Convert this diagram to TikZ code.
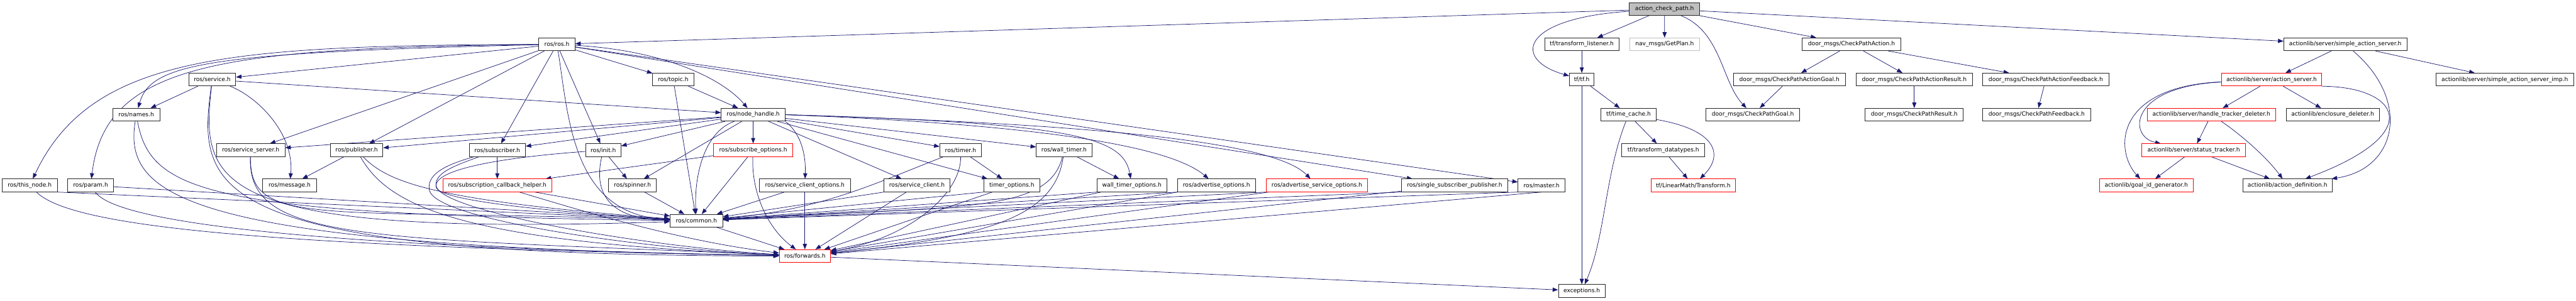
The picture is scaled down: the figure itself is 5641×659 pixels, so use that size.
\documentclass[tikz,border=0pt]{standalone}
\usepackage{fontspec}
\setmainfont{DejaVu Sans}
\usetikzlibrary{arrows.meta}
\pgfdeclarelayer{back}
\pgfdeclarelayer{bg}
\pgfsetlayers{back,bg,main}
\definecolor{edgec}{HTML}{191970}
\definecolor{acpgray}{HTML}{BFBFBF}
\definecolor{redc}{HTML}{FF0000}
\newcommand\nodefont{\fontsize{12.6}{15}\selectfont}
\tikzset{
  box/.style={draw=black!85, line width=1.2pt, fill=white, minimum height=28pt, inner sep=1pt, font=\nodefont},
  redbox/.style={box, draw=redc},
  greybox/.style={box, draw=acpgray},
  dep/.style={draw=edgec, line width=1pt, -{Triangle[length=12pt,width=9pt]}}
}
\begin{document}
\begin{tikzpicture}[x=1pt,y=-1pt]
\begin{pgfonlayer}{back}
\fill[white] (0,0) rectangle (5641,659);
\end{pgfonlayer}
\useasboundingbox (0,0) rectangle (5641,659);
% rank 0
\node[box,fill=acpgray,minimum width=154pt] (acp) at (3645,19.8) {action\_check\_path.h};
% rank 1
\node[box,minimum width=79pt] (ros) at (1219.5,97.1) {ros/ros.h};
\node[box,minimum width=163pt] (tl) at (3463.8,97.1) {tf/transform\_listener.h};
\node[greybox,minimum width=153.5pt] (getplan) at (3645.2,97.1) {nav\_msgs/GetPlan.h};
\node[box,minimum width=216pt] (cpa) at (4054.5,97.1) {door\_msgs/CheckPathAction.h};
\node[box,minimum width=269.4pt] (sas) at (5135.8,97.1) {actionlib/server/simple\_action\_server.h};
% rank 2
\node[box,minimum width=102.8pt] (service) at (464.8,174.4) {ros/service.h};
\node[box,minimum width=89.6pt] (topic) at (1474.2,174.4) {ros/topic.h};
\node[box,minimum width=54.4pt] (tf) at (3463.8,174.4) {tf/tf.h};
\node[box,minimum width=245.4pt] (cpag) at (3918.4,174.4) {door\_msgs/CheckPathActionGoal.h};
\node[box,minimum width=254.5pt] (cpar) at (4191.9,174.4) {door\_msgs/CheckPathActionResult.h};
\node[box,minimum width=276.2pt] (cpaf) at (4479.8,174.4) {door\_msgs/CheckPathActionFeedback.h};
\node[redbox,minimum width=220pt] (as) at (4974.3,174.4) {actionlib/server/action\_server.h};
\node[box,minimum width=301.5pt] (sasimp) at (5485,174.4) {actionlib/server/simple\_action\_server\_imp.h};
% rank 3
\node[box,minimum width=103.2pt] (names) at (298.4,251.4) {ros/names.h};
\node[box,minimum width=139.9pt] (nh) at (1649.3,251.4) {ros/node\_handle.h};
\node[box,minimum width=121.8pt] (tc) at (3566.3,251.4) {tf/time\_cache.h};
\node[box,minimum width=205.5pt] (cpg) at (3838.3,251.4) {door\_msgs/CheckPathGoal.h};
\node[box,minimum width=214.6pt] (cpr) at (4191.9,251.4) {door\_msgs/CheckPathResult.h};
\node[box,minimum width=236.4pt] (cpf) at (4459.9,251.4) {door\_msgs/CheckPathFeedback.h};
\node[redbox,minimum width=281.5pt] (htd) at (4842.5,251.4) {actionlib/server/handle\_tracker\_deleter.h};
\node[box,minimum width=204pt] (ed) at (5108,251.4) {actionlib/enclosure\_deleter.h};
% rank 4
\node[box,minimum width=150pt] (ss) at (549,329.1) {ros/service\_server.h};
\node[box,minimum width=115pt] (pub) at (781,329.1) {ros/publisher.h};
\node[box,minimum width=123pt] (sub) at (1089,329.1) {ros/subscriber.h};
\node[box,minimum width=77.4pt] (init) at (1321,329.1) {ros/init.h};
\node[redbox,minimum width=173.4pt] (so) at (1649.3,329.1) {ros/subscribe\_options.h};
\node[box,minimum width=91pt] (timer) at (2103.5,329.1) {ros/timer.h};
\node[box,minimum width=121.8pt] (wt) at (2330.2,329.1) {ros/wall\_timer.h};
\node[box,minimum width=181.6pt] (td) at (3642.4,329.1) {tf/transform\_datatypes.h};
\node[redbox,minimum width=226.6pt] (st) at (4803.7,329.1) {actionlib/server/status\_tracker.h};
% rank 5
\node[box,minimum width=121pt] (thisnode) at (65,406.4) {ros/this\_node.h};
\node[box,minimum width=100pt] (param) at (198.5,406.4) {ros/param.h};
\node[box,minimum width=117.7pt] (msg) at (634.3,406.4) {ros/message.h};
\node[redbox,minimum width=239pt] (sch) at (1089,406.4) {ros/subscription\_callback\_helper.h};
\node[box,minimum width=104pt] (spin) at (1385,406.4) {ros/spinner.h};
\node[box,minimum width=199pt] (sco) at (1762.5,406.4) {ros/service\_client\_options.h};
\node[box,minimum width=144.3pt] (sc) at (2007.9,406.4) {ros/service\_client.h};
\node[box,minimum width=122.7pt] (topt) at (2215.7,406.4) {timer\_options.h};
\node[box,minimum width=152pt] (wtopt) at (2478.6,406.4) {wall\_timer\_options.h};
\node[box,minimum width=170pt] (ao) at (2663.8,406.4) {ros/advertise\_options.h};
\node[redbox,minimum width=222.8pt] (aso) at (2883.8,406.4) {ros/advertise\_service\_options.h};
\node[box,minimum width=231.8pt] (ssp) at (3185.3,406.4) {ros/single\_subscriber\_publisher.h};
\node[box,minimum width=102.8pt] (master) at (3375.7,406.4) {ros/master.h};
\node[redbox,minimum width=185.7pt] (lmt) at (3707.9,406.4) {tf/LinearMath/Transform.h};
\node[redbox,minimum width=205.6pt] (gig) at (4699.9,406.4) {actionlib/goal\_id\_generator.h};
\node[box,minimum width=194.7pt] (ad) at (5009.2,406.4) {actionlib/action\_definition.h};
% ranks 6-8
\node[box,minimum width=115pt] (common) at (1525,483.8) {ros/common.h};
\node[redbox,minimum width=112pt] (fwd) at (1762.5,561.1) {ros/forwards.h};
\node[box,minimum width=102.4pt] (exc) at (3463.8,637.6) {exceptions.h};

\begin{pgfonlayer}{bg}
% action_check_path and right group
\draw[dep] (acp) -- (ros);
\draw[dep] (acp) -- (tl);
\draw[dep] (acp) .. controls (3330,40) and (3310,130) .. (tf);
\draw[dep] (acp) -- (getplan);
\draw[dep] (acp) .. controls (3770,70) and (3770,180) .. (cpg);
\draw[dep] (acp) -- (cpa);
\draw[dep] (acp) -- (sas);
\draw[dep] (tl) -- (tf);
\draw[dep] (tf) -- (tc);
\draw[dep] (tf) -- (exc);
\draw[dep] (tc) -- (td);
\draw[dep] (tc) .. controls (3760,285) and (3775,340) .. (lmt);
\draw[dep] (tc) .. controls (3515,380) and (3515,520) .. (exc);
\draw[dep] (td) -- (lmt);
\draw[dep] (cpa) -- (cpag);
\draw[dep] (cpa) -- (cpar);
\draw[dep] (cpa) -- (cpaf);
\draw[dep] (cpag) -- (cpg);
\draw[dep] (cpar) -- (cpr);
\draw[dep] (cpaf) -- (cpf);
\draw[dep] (sas) -- (as);
\draw[dep] (sas) -- (sasimp);
\draw[dep] (sas) .. controls (5280,220) and (5250,370) .. (ad);
\draw[dep] (as) -- (htd);
\draw[dep] (as) -- (ed);
\draw[dep] (as) .. controls (4660,190) and (4660,300) .. (st);
\draw[dep] (as) .. controls (4630,190) and (4630,330) .. (gig);
\draw[dep] (as.south east) .. controls (5250,190) and (5320,290) .. (ad);
\draw[dep] (htd) -- (st);
\draw[dep] (htd) .. controls (4900,290) and (4960,340) .. (ad);
\draw[dep] (st) -- (gig);
\draw[dep] (st) -- (ad);
% ros/ros.h
\draw[dep] (ros) .. controls (500,100) and (200,120) .. (thisnode);
\draw[dep] (ros) .. controls (480,105) and (230,140) .. (param);
\draw[dep] (ros) .. controls (450,115) and (330,140) .. (names);
\draw[dep] (ros) -- (service);
\draw[dep] (ros) -- (ss);
\draw[dep] (ros) -- (pub);
\draw[dep] (ros) -- (sub);
\draw[dep] (ros) .. controls (1245,250) and (1250,470) .. (common);
\draw[dep] (ros) -- (init);
\draw[dep] (ros) -- (topic);
\draw[dep] (ros) .. controls (1450,110) and (1580,170) .. (nh);
\draw[dep] (ros) -- (ssp);
\draw[dep] (ros) -- (master);
% service, names, this_node, param
\draw[dep] (service) -- (names);
\draw[dep] (service) -- (nh);
\draw[dep] (service) .. controls (560,210) and (645,290) .. (msg);
\draw[dep] (service) .. controls (440,400) and (450,520) .. (common);
\draw[dep] (service) .. controls (430,420) and (450,560) .. (fwd);
\draw[dep] (names) .. controls (330,420) and (450,470) .. (common);
\draw[dep] (names) .. controls (270,430) and (400,540) .. (fwd);
\draw[dep] (thisnode.south east) -- (common);
\draw[dep] (thisnode) .. controls (150,490) and (500,540) .. (fwd);
\draw[dep] (param) -- (common);
\draw[dep] (param) .. controls (250,480) and (600,540) .. (fwd);
% rank 4 left
\draw[dep] (ss) .. controls (545,500) and (700,455) .. (common);
\draw[dep] (ss) .. controls (540,530) and (800,520) .. (fwd);
\draw[dep] (pub) -- (msg);
\draw[dep] (pub) .. controls (850,400) and (950,440) .. (common);
\draw[dep] (pub) .. controls (850,450) and (1000,530) .. (fwd);
\draw[dep] (sub) -- (sch);
\draw[dep] (sub) .. controls (990,365) and (950,380) .. (955,410) .. controls (960,445) and (1300,470) .. (common);
\draw[dep] (sub) .. controls (980,360) and (935,380) .. (940,415) .. controls (945,480) and (1400,545) .. (fwd);
\draw[dep] (init) -- (spin);
\draw[dep] (init) .. controls (1300,420) and (1330,480) .. (common);
\draw[dep] (init) .. controls (1100,345) and (960,370) .. (955,405) .. controls (950,460) and (1400,540) .. (fwd);
\draw[dep] (sch) -- (common);
\draw[dep] (sch) .. controls (1300,470) and (1500,530) .. (fwd);
\draw[dep] (spin) -- (common);
% topic, node_handle
\draw[dep] (topic) -- (nh);
\draw[dep] (topic) -- (common);
\draw[dep] (nh) -- (pub);
\draw[dep] (nh) -- (sub);
\draw[dep] (nh) -- (init);
\draw[dep] (nh) -- (ss);
\draw[dep] (nh) -- (spin);
\draw[dep] (nh) -- (so);
\draw[dep] (nh) .. controls (1540,290) and (1520,390) .. (common);
\draw[dep] (nh.south east) .. controls (1750,290) and (1765,330) .. (sco);
\draw[dep] (nh) -- (sc);
\draw[dep] (nh) -- (timer);
\draw[dep] (nh) -- (wt);
\draw[dep] (nh) -- (topt);
\draw[dep] (nh.east) .. controls (2350,270) and (2460,300) .. (wtopt);
\draw[dep] (nh.east) .. controls (2200,270) and (2550,310) .. (ao);
\draw[dep] (nh.east) .. controls (2500,275) and (2800,320) .. (aso);
% options, timers
\draw[dep] (so) -- (sch);
\draw[dep] (so) -- (common);
\draw[dep] (so) .. controls (1645,420) and (1680,500) .. (fwd);
\draw[dep] (sco) -- (common);
\draw[dep] (sco) -- (fwd);
\draw[dep] (sc.south west) -- (common);
\draw[dep] (sc) -- (fwd);
\draw[dep] (timer) -- (topt);
\draw[dep] (timer) .. controls (1920,400) and (1800,460) .. (common);
\draw[dep] (timer) .. controls (2105,420) and (2000,520) .. (fwd);
\draw[dep] (wt) -- (wtopt);
\draw[dep] (wt) .. controls (2295,470) and (2100,450) .. (common);
\draw[dep] (wt) .. controls (2310,480) and (2150,520) .. (fwd);
\draw[dep] (topt.south west) -- (common);
\draw[dep] (topt) -- (fwd);
\draw[dep] (wtopt.south west) -- (common);
\draw[dep] (wtopt) -- (fwd);
\draw[dep] (ao.south west) -- (common);
\draw[dep] (ao) -- (fwd);
\draw[dep] (aso.south west) -- (common);
\draw[dep] (aso) -- (fwd);
\draw[dep] (ssp.south west) -- (common);
\draw[dep] (ssp) -- (fwd);
\draw[dep] (master.south west) -- (common);
\draw[dep] (master.south) -- (fwd);
\draw[dep] (common) -- (fwd);
\draw[dep] (fwd) -- (exc);
\end{pgfonlayer}
\end{tikzpicture}
\end{document}
